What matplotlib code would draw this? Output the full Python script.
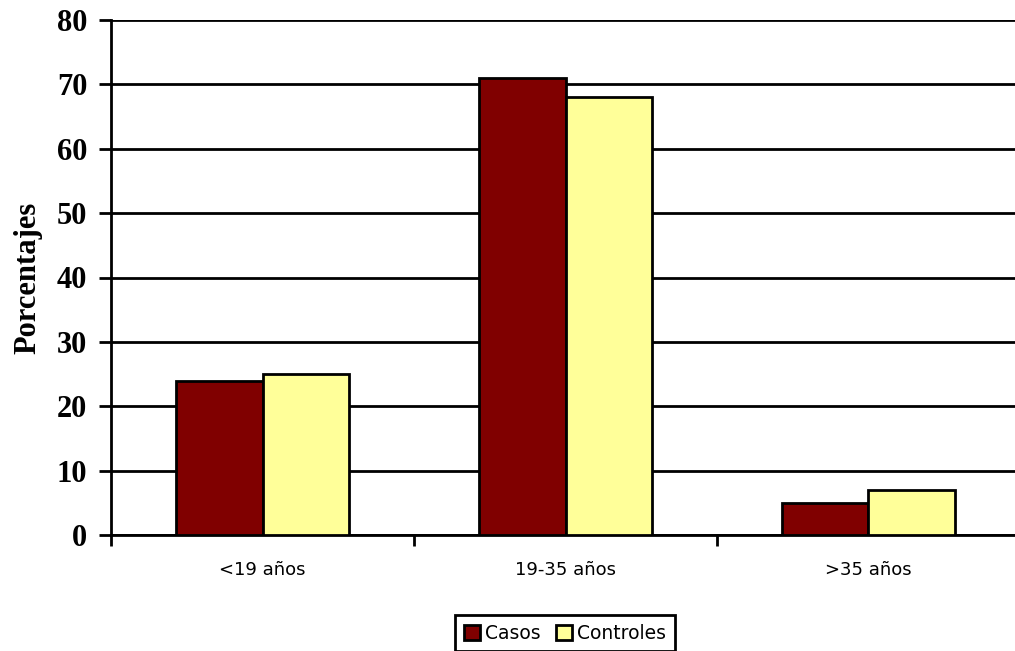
import numpy as np
import matplotlib
matplotlib.use("Agg")
import matplotlib.pyplot as plt

categories = ["<19 años", "19-35 años", ">35 años"]
casos = [24, 71, 5]
controles = [25, 68, 7]
series_names = ["Casos", "Controles"]

W, H = 1015, 651
fig = plt.figure(figsize=(W / 100, H / 100), dpi=100)
ax = fig.add_axes([111 / W, 116 / H, 909 / W, 515 / H])

x = np.arange(len(categories))
bw = 0.287
ax.bar(x - bw / 2, casos, bw, color="#800000", edgecolor="black",
       linewidth=2, label=series_names[0], zorder=3)
ax.bar(x + bw / 2, controles, bw, color="#FFFF99", edgecolor="black",
       linewidth=2, label=series_names[1], zorder=3)

ax.set_xlim(-0.5, 2.5)
ax.set_ylim(0, 80)
ax.set_yticks(range(0, 81, 10))
ax.yaxis.grid(True, color="black", linewidth=2)
ax.set_axisbelow(True)

for s in ["top", "right"]:
    ax.spines[s].set_visible(False)
ax.spines["left"].set_linewidth(2)
ax.spines["bottom"].set_linewidth(2)

# category boundaries as major ticks, labels on minor ticks
ax.set_xticks([-0.5, 0.5, 1.5, 2.5])
ax.set_xticklabels([])
ax.set_xticks(x, minor=True)
ax.set_xticklabels(categories, minor=True, fontsize=13, family="DejaVu Sans")
ax.tick_params(axis="x", which="major", length=8, width=2)
ax.tick_params(axis="x", which="minor", length=0, pad=19)
ax.tick_params(axis="y", length=9, width=2, pad=8)
for lab in ax.get_yticklabels():
    lab.set_fontfamily("Liberation Serif")
    lab.set_fontweight("bold")
    lab.set_fontsize(22)

ax.set_ylabel("Porcentajes", fontsize=22, fontweight="bold",
              family="Liberation Serif")
ax.yaxis.set_label_coords(-69 / 909, 0.5)

leg = fig.legend(loc="upper center", bbox_to_anchor=(565 / W, 1 - 606 / H),
                 ncol=2, fancybox=False, edgecolor="black", framealpha=1,
                 prop={"family": "DejaVu Sans", "size": 13.5},
                 handlelength=0.85, handleheight=0.85, handletextpad=0.3,
                 columnspacing=0.8, borderpad=0.45)
leg.get_frame().set_linewidth(2)

fig.savefig("out.png", dpi=100)
